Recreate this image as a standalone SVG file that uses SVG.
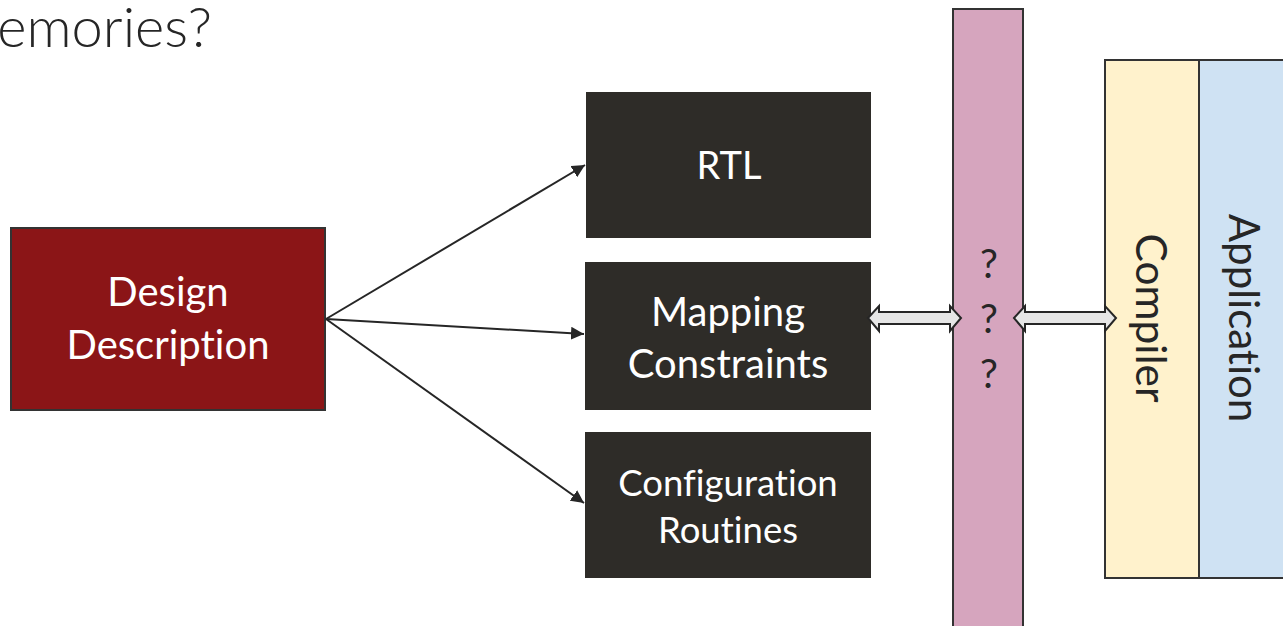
<svg xmlns="http://www.w3.org/2000/svg" width="1283" height="626" viewBox="0 0 1283 626">
<style>
text{font-variant-ligatures:none;font-feature-settings:"liga" 0,"dlig" 0}
.lbl{font-family:Lato,"Liberation Sans",sans-serif;fill:#ffffff;text-anchor:middle}
.dk{font-family:Lato,"Liberation Sans",sans-serif;fill:#262626;text-anchor:middle}
.conn{stroke:#262626;stroke-width:2;fill:none}
.barrow{fill:#E6E6E6;stroke:#262626;stroke-width:2;stroke-linejoin:miter}
</style>
<defs>
<marker id="ah" viewBox="0 0 10 10" refX="10" refY="5" markerWidth="6.5" markerHeight="6.5" markerUnits="strokeWidth" orient="auto">
<path d="M0,0 L10,5 L0,10 Z" fill="#262626"/>
</marker>
</defs>
<rect width="1283" height="626" fill="#ffffff"/>
<text x="212" y="47" font-family="Lato,'Liberation Sans',sans-serif" font-weight="300" font-size="56" fill="#262626" text-anchor="end">emories?</text>

<g id="design">
<rect x="11" y="228" width="314" height="182" fill="#8B1517" stroke="#333333" stroke-width="2"/>
<text class="lbl" x="168" y="306" font-size="40">Design</text>
<text class="lbl" x="168" y="359" font-size="40">Description</text>
</g>
<g id="rtl">
<rect x="586" y="92" width="285" height="146" fill="#2E2C28"/>
<text class="lbl" x="729" y="179" font-size="38">RTL</text>
</g>
<g id="mapping">
<rect x="585" y="262" width="286" height="148" fill="#2E2C28"/>
<text class="lbl" x="728" y="326" font-size="40">Mapping</text>
<text class="lbl" x="728" y="378" font-size="40">Constraints</text>
</g>
<g id="config">
<rect x="585" y="432" width="286" height="146" fill="#2E2C28"/>
<text class="lbl" x="728" y="496" font-size="36.5">Configuration</text>
<text class="lbl" x="728" y="543" font-size="36.5">Routines</text>
</g>
<g id="unknown">
<rect x="953" y="9" width="70" height="630" fill="#D6A5BE" stroke="#333333" stroke-width="2"/>
<text class="dk" x="989" y="278" font-size="40">?</text>
<text class="dk" x="989" y="333" font-size="40">?</text>
<text class="dk" x="989" y="388" font-size="40">?</text>
</g>
<g id="compiler">
<rect x="1105" y="60" width="94" height="518" fill="#FFF2CC" stroke="#333333" stroke-width="2"/>
<text class="dk" font-size="42.5" transform="translate(1136,318) rotate(90)">Compiler</text>
</g>
<g id="application">
<rect x="1199" y="60" width="100" height="518" fill="#CFE2F3" stroke="#333333" stroke-width="2"/>
<text class="dk" font-size="42" transform="translate(1229,318) rotate(90)">Application</text>
</g>

<g id="connectors">
<line class="conn" x1="326" y1="319" x2="585" y2="165" marker-end="url(#ah)"/>
<line class="conn" x1="326" y1="319" x2="584" y2="334" marker-end="url(#ah)"/>
<line class="conn" x1="326" y1="319" x2="584" y2="503" marker-end="url(#ah)"/>
<path class="barrow" d="M868,318 L879,306 L879,312 L950,312 L950,306 L961,318 L950,331 L950,324 L879,324 L879,331 Z"/>
<path class="barrow" d="M1014,318 L1025,306 L1025,312 L1105,312 L1105,306 L1116,318 L1105,331 L1105,324 L1025,324 L1025,331 Z"/>
</g>
</svg>
